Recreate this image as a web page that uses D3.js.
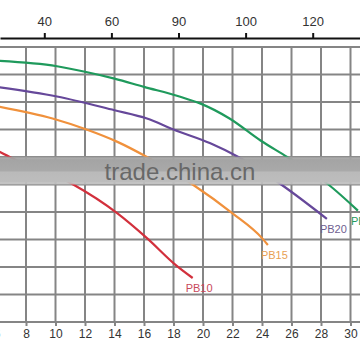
<!DOCTYPE html>
<html>
<head>
<meta charset="utf-8">
<script src="https://cdn.jsdelivr.net/npm/d3@7"></script>
<style>
  body { margin: 0; background: #fff; }
  svg { display: block; font-family: "Liberation Sans", Arial, sans-serif; }
</style>
</head>
<body>
<svg id="chart" width="360" height="360"></svg>
<script>
// flow (m3/h) on the bottom axis, head on the hidden left axis
var pb10Flow = [6, 7.1, 11.2, 14.2, 16.2, 18.2, 19.3];
var pb10Head = [12.5, 11.9, 10.0, 7.9, 6.1, 4.1, 3.2];

var pb15Flow = [6, 9.8, 12.1, 14.2, 16.2, 19.3, 22.0, 24.0, 24.4];
var pb15Head = [15.7, 14.8, 14.0, 13.1, 12.0, 10.0, 7.9, 6.1, 5.6];

var pb20Flow = [6, 10.1, 14.0, 16.2, 18.0, 20.5, 22.4, 25.3, 28.4];
var pb20Head = [17.1, 16.4, 15.4, 14.8, 14.0, 13.0, 12.0, 10.0, 7.5];

var pb25Flow = [6, 10.1, 12.0, 14.0, 16.0, 18.4, 19.8, 21.8, 23.9, 25.7, 28.5, 30.5];
var pb25Head = [19.0, 18.6, 18.2, 17.7, 17.1, 16.4, 15.9, 14.8, 13.2, 12.0, 10.0, 8.1];

var seriesNames = ["PB10", "PB15", "PB20", "PB25"];
var lineColors = ["#d2303c", "#f0913c", "#66489a", "#1f9a5c"];
var labelColors = ["#c8485a", "#e8a052", "#6e6090", "#1f9a5c"];

var bottomTicks = [6, 8, 10, 12, 14, 16, 18, 20, 22, 24, 26, 28, 30];
var headGrid = [0, 2, 4, 6, 8, 10, 12, 14, 16, 18, 20];
var topTickValues = [40, 60, 80, 100, 120];
var topTickLabels = ["40", "60", "90", "100", "120"];

var flows = [pb10Flow, pb15Flow, pb20Flow, pb25Flow];
var heads = [pb10Head, pb15Head, pb20Head, pb25Head];

var svg = d3.select("#chart");

var x = d3.scaleLinear().domain([6, 30]).range([-3.5, 350.5]);
var y = d3.scaleLinear().domain([0, 20]).range([322, 47]);

// top axis in GPM, stretched so its line runs the whole width
var xTop = d3.scaleLinear().domain([40, 120]).range([44.3, 312.7]);
xTop.domain([xTop.invert(0), xTop.invert(360)]).range([0, 360]);

// grid
var grid = svg.append("g").attr("class", "grid")
  .attr("stroke", "#858585")
  .attr("stroke-width", 2);

grid.selectAll(".v")
  .data(d3.range(6, 34, 2))
  .enter()
  .append("line")
  .attr("x1", function(d) { return x(d); })
  .attr("x2", function(d) { return x(d); })
  .attr("y1", y(20))
  .attr("y2", y(0));

grid.selectAll(".h")
  .data(headGrid)
  .enter()
  .append("line")
  .attr("x1", 0)
  .attr("x2", 360)
  .attr("y1", function(d) { return y(d); })
  .attr("y2", function(d) { return y(d); });

// curves
var line = d3.line()
  .x(function(d) { return x(d[0]); })
  .y(function(d) { return y(d[1]); })
  .curve(d3.curveMonotoneX);

var series = seriesNames.map(function(name, i) {
  return {
    name: name,
    points: flows[i].map(function(f, j) { return [f, heads[i][j]]; })
  };
});

svg.append("g").selectAll("path")
  .data(series)
  .enter()
  .append("path")
  .attr("d", function(d) { return line(d.points); })
  .attr("fill", "none")
  .attr("stroke", function(d, i) { return lineColors[i]; })
  .attr("stroke-width", 2.2);

svg.append("g").selectAll("text")
  .data(series)
  .enter()
  .append("text")
  .attr("x", function(d) { return x(d.points[d.points.length - 1][0]) - 7; })
  .attr("y", function(d) { return y(d.points[d.points.length - 1][1]) + 14; })
  .attr("fill", function(d, i) { return labelColors[i]; })
  .attr("font-size", 11)
  .text(function(d) { return d.name; });

// watermark band
var defs = svg.append("defs");
var grad = defs.append("linearGradient")
  .attr("id", "band")
  .attr("x1", 0).attr("y1", 0).attr("x2", 0).attr("y2", 1);
grad.append("stop").attr("offset", "0%").attr("stop-color", "#a4a4a4").attr("stop-opacity", 0.85);
grad.append("stop").attr("offset", "12%").attr("stop-color", "#a4a4a4").attr("stop-opacity", 1);
grad.append("stop").attr("offset", "50%").attr("stop-color", "#a9a9a9").attr("stop-opacity", 1);
grad.append("stop").attr("offset", "56%").attr("stop-color", "#bababa").attr("stop-opacity", 1);
grad.append("stop").attr("offset", "90%").attr("stop-color", "#bdbdbd").attr("stop-opacity", 1);
grad.append("stop").attr("offset", "100%").attr("stop-color", "#c6c6c6").attr("stop-opacity", 0.8);

svg.append("rect")
  .attr("x", 0)
  .attr("y", 156.7)
  .attr("width", 360)
  .attr("height", 27.8)
  .attr("fill", "url(#band)");

svg.append("text")
  .attr("x", 180)
  .attr("y", 180)
  .attr("text-anchor", "middle")
  .attr("font-size", 24)
  .attr("fill", "#686868")
  .text("trade.china.cn");

// bottom axis
var xAxis = d3.axisBottom(x)
  .tickValues(bottomTicks)
  .tickFormat(d3.format("d"))
  .tickSize(4)
  .tickPadding(3);

var gx = svg.append("g")
  .attr("transform", "translate(0," + y(0) + ")")
  .call(xAxis);
gx.select(".domain").remove();
gx.selectAll(".tick line").attr("stroke", "#858585").attr("stroke-width", 2);
gx.selectAll(".tick text").attr("fill", "#333").attr("font-size", 12)
  .attr("font-family", "Liberation Sans, Arial, sans-serif");

// top axis
var topAxis = d3.axisTop(xTop)
  .tickValues(topTickValues)
  .tickFormat(function(d, i) { return topTickLabels[i]; })
  .tickSize(5)
  .tickSizeOuter(0)
  .tickPadding(7);

var gt = svg.append("g")
  .attr("transform", "translate(0,38)")
  .call(topAxis);
gt.select(".domain").attr("stroke", "#111").attr("stroke-width", 2.2);
gt.selectAll(".tick line").attr("stroke", "#111").attr("stroke-width", 2);
gt.selectAll(".tick text").attr("fill", "#333").attr("font-size", 13)
  .attr("font-family", "Liberation Sans, Arial, sans-serif");
</script>
</body>
</html>
